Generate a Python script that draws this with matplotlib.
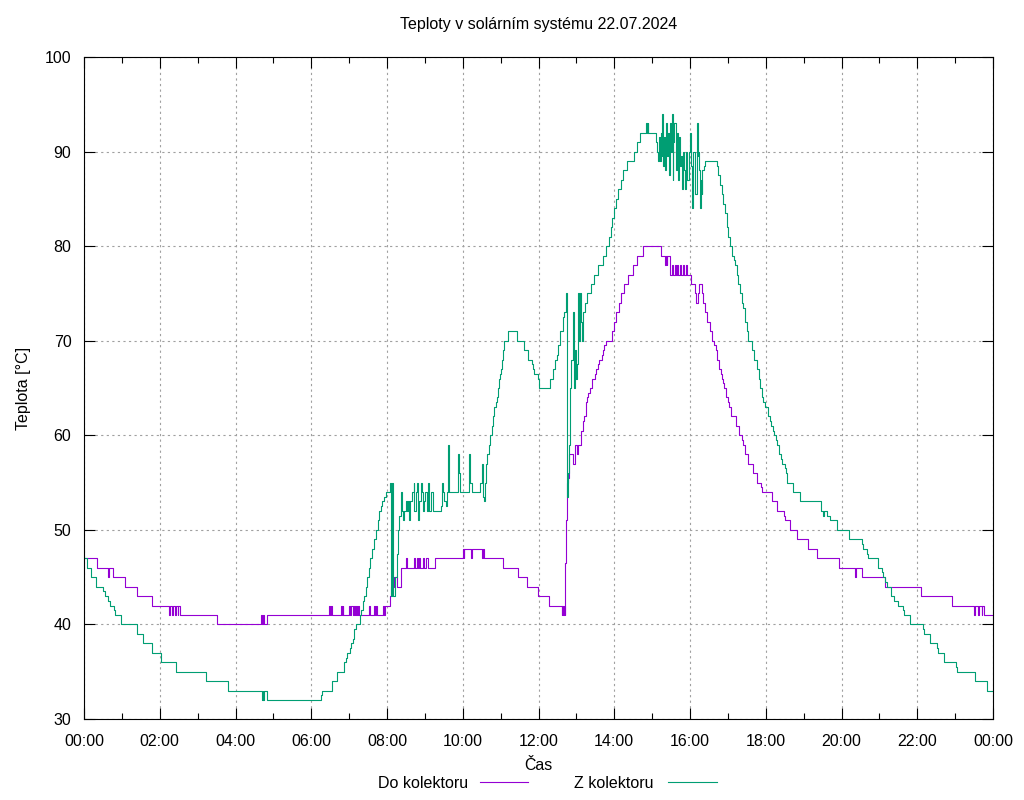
import matplotlib
matplotlib.use("Agg")
import matplotlib.pyplot as plt
from matplotlib.lines import Line2D
from matplotlib.ticker import MultipleLocator

plt.rcParams['font.family'] = ['Liberation Sans', 'DejaVu Sans']

title = "Teploty v solárním systému 22.07.2024"
xlabel = "Čas"
ylabel = "Teplota [°C]"
series_names = ["Do kolektoru", "Z kolektoru"]
colors = ['#9400d3', '#009e73']

# Do kolektoru - (hour, value) breakpoints
do_t = [0.00, 0.35, 0.63, 0.66, 0.77, 1.07, 1.41, 1.80,
        2.24, 2.26, 2.32, 2.34, 2.40, 2.44, 2.47, 2.49, 2.53, 3.52,
        4.67, 4.70, 4.73, 4.76, 4.82,
        6.47, 6.49, 6.52, 6.55, 6.78, 6.80, 6.83, 6.85,
        7.00, 7.03, 7.06, 7.09, 7.12, 7.15, 7.18, 7.21, 7.24, 7.26,
        7.53, 7.56, 7.66, 7.68, 7.71, 7.73, 7.90, 7.92, 7.95,
        8.08, 8.11, 8.13, 8.15, 8.19, 8.27, 8.36,
        8.50, 8.53, 8.72, 8.75, 8.80, 8.83, 8.85, 8.88, 8.95, 8.98, 9.04, 9.07,
        9.27, 10.00, 10.02, 10.04, 10.22, 10.24, 10.52, 10.54, 10.56,
        11.07, 11.45, 11.69, 11.98, 12.27,
        12.61, 12.63, 12.66, 12.68, 12.70, 12.71, 12.73, 12.74, 12.77,
        12.81, 12.92, 12.96, 13.01, 13.05, 13.12, 13.17, 13.20, 13.25, 13.27,
        13.32, 13.36, 13.42, 13.48, 13.52, 13.56, 13.61, 13.67, 13.70, 13.74,
        13.77, 13.93, 13.99, 14.04, 14.13, 14.18, 14.27, 14.35, 14.50, 14.59,
        14.77, 15.23, 15.34, 15.36, 15.38, 15.40, 15.47,
        15.52, 15.54, 15.60, 15.62, 15.66, 15.68, 15.74, 15.76, 15.82, 15.84,
        15.90, 15.92, 16.02, 16.13, 16.17, 16.20, 16.25, 16.33, 16.35, 16.40,
        16.46, 16.53, 16.59, 16.63, 16.68, 16.72, 16.77, 16.81, 16.84, 16.88,
        16.91, 16.94, 17.01, 17.04, 17.08, 17.21, 17.30, 17.36, 17.41, 17.45,
        17.54, 17.67, 17.76, 17.87, 17.89, 18.16, 18.31, 18.48, 18.51, 18.64,
        18.82, 18.83, 19.12, 19.36, 19.94, 20.35, 20.37, 20.53, 21.15, 22.10,
        22.93, 23.51, 23.53, 23.61, 23.63, 23.70, 23.72, 23.75, 24.00]
do_v = [47, 46, 45, 46, 45, 44, 43, 42,
        41, 42, 41, 42, 41, 42, 41, 42, 41, 40,
        41, 40, 41, 40, 41,
        42, 41, 42, 41, 42, 41, 42, 41,
        42, 41, 42, 41, 42, 41, 42, 41, 42, 41,
        42, 41, 42, 41, 42, 41, 42, 41, 42,
        43, 44, 45, 44, 45, 44, 46,
        47, 46, 47, 46, 47, 46, 47, 46, 47, 46, 47, 46,
        47, 48, 47, 48, 47, 48, 47, 48, 47,
        46, 45, 44, 43, 42,
        41, 42, 41, 42, 41, 46.5, 51, 55, 55.5,
        58, 57, 59, 58, 59, 60.5, 61.5, 62, 63.5, 64,
        64.5, 65, 66, 66.5, 67, 67.5, 68, 68.5, 69, 69.5,
        70, 71, 72, 73, 74, 75, 76, 77, 78, 79,
        80, 79, 78, 79, 78, 79, 77,
        78, 77, 78, 77, 78, 77, 78, 77, 78, 77,
        78, 77, 76, 75, 74, 75, 76, 75, 74, 73,
        72, 71, 70, 69.5, 69, 68, 67, 66.5, 66, 65.5,
        65, 64, 63.5, 63, 62, 61, 60, 59.5, 59, 58,
        57, 56, 55, 54.5, 54, 53, 52, 51.5, 51, 50,
        49.5, 49, 48, 47, 46, 45, 46, 45, 44, 43,
        42, 41, 42, 41, 42, 41, 42, 41, 41]

# Z kolektoru
z_t = [0.00, 0.09, 0.19, 0.33, 0.51, 0.55, 0.64, 0.69, 0.79, 0.81,
       0.99, 1.39, 1.41, 1.57, 1.79, 1.80, 2.02, 2.04, 2.44, 3.21,
       3.23, 3.79, 4.71, 4.72, 4.73, 4.75, 4.84, 6.27, 6.29, 6.56,
       6.69, 6.87, 6.91, 6.95, 7.02, 7.06, 7.09, 7.13, 7.17, 7.29,
       7.32, 7.36, 7.39, 7.44, 7.48, 7.53, 7.54, 7.60, 7.66, 7.70,
       7.75, 7.80, 7.84, 7.88, 7.92, 7.97, 8.08, 8.10, 8.11, 8.13,
       8.15, 8.17, 8.21, 8.26, 8.30, 8.33, 8.36, 8.39, 8.41, 8.46,
       8.49, 8.52, 8.55, 8.58, 8.61, 8.65, 8.70, 8.72, 8.76, 8.78,
       8.81, 8.83, 8.85, 8.89, 8.92, 8.94, 8.98, 9.00, 9.05, 9.07,
       9.11, 9.16, 9.22, 9.42, 9.46, 9.49, 9.51, 9.55, 9.58, 9.60,
       9.62, 9.64, 9.87, 9.90, 9.93, 10.17, 10.19, 10.24, 10.46, 10.50,
       10.53, 10.54, 10.57, 10.59, 10.61, 10.65, 10.69, 10.72, 10.76, 10.79,
       10.83, 10.87, 10.90, 10.92, 10.96, 10.98, 11.01, 11.04, 11.07, 11.10,
       11.20, 11.44, 11.63, 11.71, 11.82, 11.85, 11.89, 11.98, 12.01, 12.30,
       12.39, 12.44, 12.48, 12.52, 12.57, 12.66, 12.68, 12.72, 12.74, 12.76,
       12.79, 12.81, 12.83, 12.86, 12.90, 12.95, 12.96, 12.98, 13.01, 13.03,
       13.05, 13.08, 13.10, 13.12, 13.14, 13.18, 13.23, 13.29, 13.38, 13.47,
       13.56, 13.69, 13.77, 13.86, 13.91, 13.95, 13.99, 14.05, 14.11, 14.17,
       14.22, 14.33, 14.53, 14.61, 14.68, 14.83, 14.86, 14.88, 14.90, 15.10,
       15.14, 15.16, 15.19, 15.21, 15.23, 15.25, 15.27, 15.29, 15.31, 15.34,
       15.37, 15.40, 15.43, 15.45, 15.47, 15.50, 15.52, 15.54, 15.56, 15.59,
       15.62, 15.65, 15.67, 15.70, 15.73, 15.75, 15.78, 15.81, 15.84, 15.87,
       15.89, 15.93, 15.97, 16.00, 16.03, 16.04, 16.07, 16.09, 16.12, 16.14,
       16.18, 16.20, 16.22, 16.24, 16.26, 16.29, 16.31, 16.33, 16.37, 16.40,
       16.72, 16.75, 16.79, 16.84, 16.88, 16.93, 16.97, 17.01, 17.06, 17.10,
       17.15, 17.19, 17.23, 17.28, 17.32, 17.37, 17.41, 17.44, 17.46, 17.50,
       17.54, 17.63, 17.68, 17.76, 17.81, 17.85, 17.90, 17.94, 17.97, 18.05,
       18.12, 18.14, 18.19, 18.22, 18.28, 18.29, 18.36, 18.41, 18.44, 18.50,
       18.53, 18.57, 18.71, 18.91, 19.45, 19.52, 19.55, 19.62, 19.69, 19.89,
       20.20, 20.53, 20.56, 20.68, 20.71, 20.97, 21.06, 21.10, 21.16, 21.21,
       21.32, 21.39, 21.50, 21.63, 21.66, 21.81, 22.16, 22.19, 22.33, 22.51,
       22.54, 22.70, 23.02, 23.04, 23.52, 23.85, 24.00]
z_v = [47, 46, 45, 44, 43.5, 43, 42.5, 42, 41.5, 41,
       40, 39.5, 39, 38, 37.5, 37, 36.5, 36, 35, 34.5,
       34, 33, 32, 33, 32, 33, 32, 32.5, 33, 34,
       35, 36, 36.5, 37, 37.5, 38, 38.5, 39.5, 40, 41,
       41.5, 42.5, 43, 44, 45, 46, 47, 48, 49, 50,
       51, 52, 52.5, 53, 53.5, 54, 55, 54, 43, 55,
       44, 43, 45, 47.5, 50, 51.5, 54, 52, 51, 52,
       53, 52, 53, 51, 53, 54, 55, 52, 54, 55,
       52, 51, 53, 55, 54, 52, 53, 54, 52, 55,
       52, 54, 52, 52.5, 55, 54, 53, 52.5, 54, 56,
       59, 54, 58, 56, 54, 58, 55, 54, 55, 57,
       56, 53.5, 53, 55, 57, 58, 59, 60, 61, 62,
       63, 63.5, 64, 65, 66, 66.5, 67, 68, 69, 70,
       71, 70, 69, 68, 67.5, 67, 66.5, 66, 65, 66,
       67, 68, 68.5, 69.5, 71, 72.5, 73, 75, 65, 53.5,
       56, 59, 65, 68, 73, 65, 69, 66, 67.5, 69,
       75, 70, 75, 72, 70, 73, 74, 75, 76, 77,
       78, 79, 80, 81, 82, 83, 84, 85, 86, 87,
       88, 89, 90, 91, 92, 93, 92, 93, 92, 91,
       90, 89, 91.5, 89, 92, 89.5, 94, 88.5, 91.5, 88,
       93, 89.5, 92, 87.5, 93, 90, 94, 87, 91, 93,
       88, 92, 87, 91.5, 88.5, 89.5, 86, 90, 88, 86,
       90, 87, 90, 92, 88.5, 84, 87, 90, 86, 85.5,
       93, 89.5, 90, 88, 84, 87, 85.5, 88, 88.5, 89,
       88.5, 87.5, 86.5, 85.5, 84.5, 83.5, 82, 81, 80, 79,
       78.5, 78, 77, 76, 75, 74, 73.5, 73, 72, 71,
       70, 69, 68, 67, 66, 65, 64, 63.5, 63, 62,
       61.5, 61, 60.5, 60, 59.5, 59, 58, 57.5, 57, 56.5,
       56, 55, 54, 53, 52, 51.5, 52, 51.5, 51, 50,
       49, 48.5, 48, 47.5, 47, 46, 45.5, 45, 44.5, 44,
       43, 42.5, 42, 41.5, 41, 40, 39.5, 39, 38, 37.5,
       37, 36, 35.5, 35, 34, 33, 33]

x_ticks = list(range(0, 25, 2))
x_labels = ["00:00", "02:00", "04:00", "06:00", "08:00", "10:00", "12:00",
            "14:00", "16:00", "18:00", "20:00", "22:00", "00:00"]

fs = 11.5
W, H = 1024, 800

fig = plt.figure(figsize=(W / 100, H / 100), dpi=100)
ax = fig.add_axes([84 / W, 81 / H, 909 / W, 662 / H])

ax.plot(do_t, do_v, drawstyle='steps-post', color=colors[0], lw=0.8)
ax.plot(z_t, z_v, drawstyle='steps-post', color=colors[1], lw=0.8)

ax.set_xlim(0, 24)
ax.set_ylim(30, 100)
ax.set_xticks(x_ticks)
ax.set_xticklabels(x_labels)
ax.xaxis.set_minor_locator(MultipleLocator(1))
ax.yaxis.set_major_locator(MultipleLocator(10))
ax.grid(True, which='major', color='#a0a0a0', linestyle=(0, (2, 3)), lw=0.8)
ax.tick_params(which='both', direction='in', top=True, right=True,
               labelsize=fs, width=0.8)
ax.tick_params(which='major', length=8)
ax.tick_params(axis='x', which='major', pad=11)
ax.tick_params(axis='y', which='major', pad=9)
ax.tick_params(which='minor', length=4)
for s in ax.spines.values():
    s.set_linewidth(0.8)

ax.set_title(title, fontsize=fs, pad=20)
ax.set_xlabel(xlabel, fontsize=fs, labelpad=6)
ax.set_ylabel(ylabel, fontsize=fs, labelpad=10)

# gnuplot-like key below the plot: right aligned text, then the line sample
key_text_right = [468, 654]
key_line_x = [(480, 528), (668, 717)]
key_y = 782
for name, col, tx, (x0, x1) in zip(series_names, colors, key_text_right, key_line_x):
    fig.text(tx / W, 1 - key_y / H, name, ha='right', va='center_baseline',
             fontsize=fs)
    fig.add_artist(Line2D([x0 / W, x1 / W], [1 - key_y / H, 1 - key_y / H],
                          color=col, lw=0.8, transform=fig.transFigure))

fig.savefig("out.png", dpi=100)
